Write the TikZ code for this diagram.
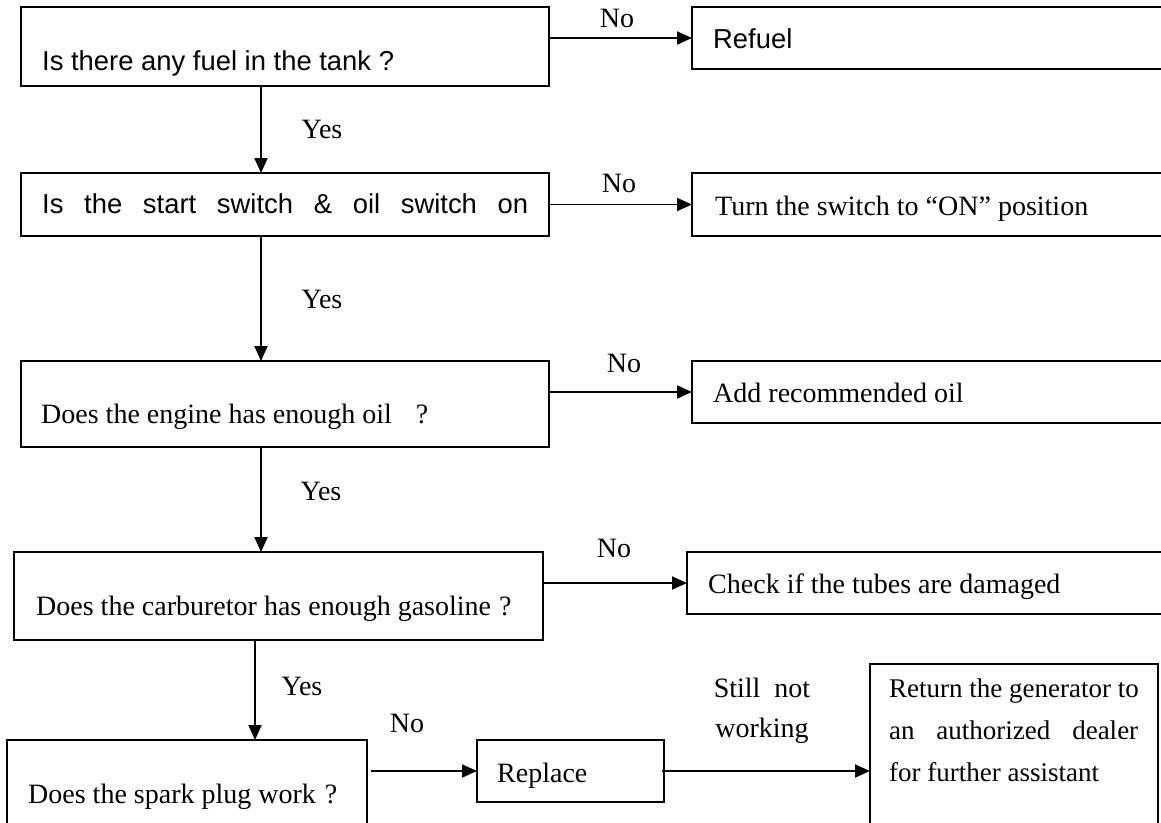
\documentclass[tikz,border=0pt]{standalone}
\usepackage{fontspec}
\setmainfont{Liberation Serif}
\setsansfont{Liberation Sans}
\usetikzlibrary{arrows.meta}
\begin{document}
\begin{tikzpicture}[x=1pt,y=-1pt,
  box/.style={draw, line width=1.9pt, rectangle, inner sep=0pt, outer sep=0pt, anchor=north west},
  txt/.style={inner sep=0pt, anchor=base west, font=\fontsize{28}{33}\selectfont},
  txtsm/.style={inner sep=0pt, anchor=base west, font=\fontsize{27}{32}\selectfont},
  txtsf/.style={inner sep=0pt, anchor=base west, font=\fontsize{27.4}{32}\selectfont\sffamily},
  lbl/.style={inner sep=0pt, anchor=base, font=\fontsize{28}{33}\selectfont},
  arr/.style={line width=1.9pt, -{Triangle[length=15pt,width=13pt]}}]
\clip (0,0) rectangle (1161,822);
\fill[white] (0,0) rectangle (1161,822);

% boxes
\node[box, minimum width=528pt, minimum height=79pt] (q1) at (21,7) {};
\node[box, minimum width=480pt, minimum height=62pt] (r1) at (692,7) {};
\node[box, minimum width=528pt, minimum height=63pt] (q2) at (21,173) {};
\node[box, minimum width=480pt, minimum height=63pt] (t2) at (692,173) {};
\node[box, minimum width=528pt, minimum height=86pt] (q3) at (21,361) {};
\node[box, minimum width=480pt, minimum height=62pt] (a3) at (692,361) {};
\node[box, minimum width=529pt, minimum height=88pt] (q4) at (14,552) {};
\node[box, minimum width=485pt, minimum height=62pt] (c4) at (687,552) {};
\node[box, minimum width=360pt, minimum height=100pt] (q5) at (7,740) {};
\node[box, minimum width=187pt, minimum height=62pt] (rp) at (477,740) {};
\node[box, minimum width=288pt, minimum height=180pt] (rt) at (870,664) {};

% texts
\node[txtsf] (t1) at (42,70) {Is there any fuel in the tank ?};
\node[txtsf] (tr1) at (713,48) {Refuel};
\node[txtsf] (t2t) at (42,213) {\makebox[486pt][s]{Is the start switch \& oil switch on}};
\node[txt] (tt2) at (715,215) {Turn the switch to “ON” position};
\node[txt] (t3) at (41,423) {Does the engine has enough oil\hspace{24pt}?};
\node[txt] (ta3) at (713,402) {Add recommended oil};
\node[txt] (t4) at (36,615) {Does the carburetor has enough gasoline\hspace{8pt}?};
\node[txt] (tc4) at (708,593) {Check if the tubes are damaged};
\node[txt] (t5) at (28,803) {Does the spark plug work\hspace{9pt}?};
\node[txt] (trp) at (497,782) {Replace};
\node[txtsm] (rt1) at (889,697) {Return the generator to};
\node[txtsm] (rt2) at (889,739) {\makebox[249pt][s]{an authorized dealer}};
\node[txtsm] (rt3) at (889,781) {for further assistant};

% labels
\node[lbl] (n1) at (617,27) {No};
\node[lbl] (n2) at (619,192) {No};
\node[lbl] (n3) at (624,372) {No};
\node[lbl] (n4) at (614,557) {No};
\node[lbl] (n5) at (407,732) {No};
\node[lbl] (y1) at (322,138) {Yes};
\node[lbl] (y2) at (322,308) {Yes};
\node[lbl] (y3) at (321,500) {Yes};
\node[lbl] (y4) at (302,695) {Yes};
\node[lbl] (s1) at (762,697) {Still\ \ not};
\node[lbl] (s2) at (762,737) {working};

% horizontal connectors
\draw[arr] (q1.east |- r1.west) -- (r1.west);
\draw[arr] (q2.east |- t2.west) -- (t2.west);
\draw[arr] (q3.east |- a3.west) -- (a3.west);
\draw[arr] (q4.east |- c4.west) -- (c4.west);
\draw[arr] ([xshift=4pt]q5.east |- rp.west) -- (rp.west);
\draw[arr] ([xshift=-2pt]rp.east) -- (rp.east -| rt.west);

% vertical connectors
\coordinate (v1) at ([xshift=240pt]q1.south west);
\coordinate (v2) at ([xshift=240pt]q2.south west);
\coordinate (v3) at ([xshift=240pt]q3.south west);
\coordinate (v4) at ([xshift=241pt]q4.south west);
\draw[arr] (v1) -- (v1 |- q2.north);
\draw[arr] (v2) -- (v2 |- q3.north);
\draw[arr] (v3) -- (v3 |- q4.north);
\draw[arr] (v4) -- (v4 |- q5.north);
\end{tikzpicture}
\end{document}
